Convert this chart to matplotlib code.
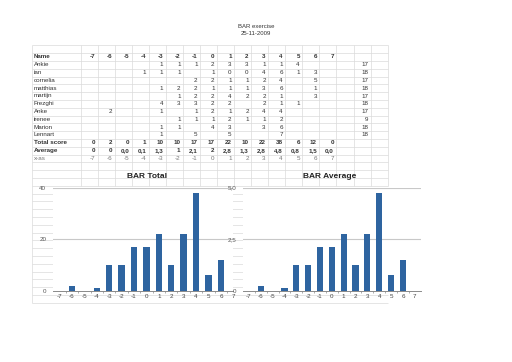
import matplotlib
matplotlib.use("Agg")
import matplotlib.pyplot as plt
from matplotlib.ticker import FixedLocator

plt.rcParams["font.family"] = ["Liberation Sans", "DejaVu Sans"]

# ===== DATA =====
TITLE = "BAR exercise"
DATE = "25-11-2009"
x_as = [-7, -6, -5, -4, -3, -2, -1, 0, 1, 2, 3, 4, 5, 6, 7]
names = ["Ankie", "ian", "cornelia", "matthias", "martijn", "Frezghi",
         "Anke", "irenee", "Marion", "Lennart"]
scores = [
    [None, None, None, None, 1, 1, 1, 2, 3, 3, 1, 1, 4, None, None],
    [None, None, None, 1, 1, 1, None, 1, 0, 0, 4, 6, 1, 3, None],
    [None, None, None, None, None, None, 2, 2, 1, 1, 2, 4, None, 5, None],
    [None, None, None, None, 1, 2, 2, 1, 1, 1, 3, 6, None, 1, None],
    [None, None, None, None, None, 1, 2, 2, 4, 2, 2, 1, None, 3, None],
    [None, None, None, None, 4, 3, 3, 2, 2, None, 2, 1, 1, None, None],
    [None, 2, None, None, 1, None, 1, 2, 1, 2, 4, 4, None, None, None],
    [None, None, None, None, None, 1, 1, 1, 2, 1, 1, 2, None, None, None],
    [None, None, None, None, 1, 1, None, 4, 3, None, 3, 6, None, None, None],
    [None, None, None, None, 1, None, 5, None, 5, None, None, 7, None, None, None],
]
row_sums = [17, 18, 17, 18, 17, 18, 17, 9, 18, 18]
total_score = [0, 2, 0, 1, 10, 10, 17, 17, 22, 10, 22, 38, 6, 12, 0]
average_txt = ["0", "0", "0,0", "0,1", "1,3", "1", "2,1", "2", "2,8",
               "1,3", "2,8", "4,8", "0,8", "1,5", "0,0"]
average_bar = [0, 0.25, 0, 0.125, 1.25, 1.25, 2.125, 2.125, 2.75,
               1.25, 2.75, 4.75, 0.75, 1.5, 0]

# ===== LAYOUT (pixels) =====
W, H = 512, 362
GRID = "#dadada"
TXT = "#333333"
BAR = "#2e64a0"
X0, NAME_W, COL_W, NCOL = 32.3, 48.4, 17.05, 18
ROW0, ROW_H, NROW = 45.3, 7.8, 33
FS = 4.5


def col_right(k):
    return X0 + NAME_W + (k + 1) * COL_W - 2.5


def row_mid(r):
    return ROW0 + (r + 0.5) * ROW_H


def main():
    fig = plt.figure(figsize=(W / 100, H / 100), dpi=100)
    bg = fig.add_axes([0, 0, 1, 1], zorder=0)
    bg.set_xlim(0, W)
    bg.set_ylim(H, 0)
    bg.axis("off")

    # spreadsheet grid
    x_right = X0 + NAME_W + NCOL * COL_W
    for r in range(NROW + 1):
        bg.hlines(ROW0 + r * ROW_H, X0, x_right, color=GRID, lw=0.5)
    y_chart = ROW0 + 18 * ROW_H
    bg.vlines(X0, ROW0, ROW0 + NROW * ROW_H, color=GRID, lw=0.5)
    for k in range(NCOL + 1):
        bg.vlines(X0 + NAME_W + k * COL_W, ROW0, y_chart, color=GRID, lw=0.5)

    # titles
    bg.text(W / 2, 26, TITLE, ha="center", va="center", fontsize=4.3, color=TXT)
    bg.text(W / 2, 33.3, DATE, ha="center", va="center", fontsize=4.3, color=TXT)

    # header row
    bg.text(34, row_mid(1), "Name", ha="left", va="center", fontsize=FS,
            fontweight="bold", color=TXT)
    for k, v in enumerate(x_as):
        bg.text(col_right(k), row_mid(1), str(v), ha="right", va="center",
                fontsize=FS, fontweight="bold", color=TXT)

    # people
    for i, (nm, row) in enumerate(zip(names, scores)):
        r = i + 2
        bg.text(34, row_mid(r), nm, ha="left", va="center", fontsize=FS, color=TXT)
        for k, v in enumerate(row):
            if v is not None:
                bg.text(col_right(k), row_mid(r), str(v), ha="right",
                        va="center", fontsize=FS, color=TXT)
        bg.text(col_right(16), row_mid(r), str(row_sums[i]), ha="right",
                va="center", fontsize=FS, color=TXT)

    # totals / averages / x-as
    r = len(names) + 2
    bg.text(34, row_mid(r), "Total score", ha="left", va="center", fontsize=FS,
            fontweight="bold", color=TXT)
    bg.text(34, row_mid(r + 1), "Average", ha="left", va="center", fontsize=FS,
            fontweight="bold", color=TXT)
    bg.text(34, row_mid(r + 2), "x-as", ha="left", va="center", fontsize=FS,
            color="#777777")
    for k in range(len(x_as)):
        bg.text(col_right(k), row_mid(r), str(total_score[k]), ha="right",
                va="center", fontsize=FS, fontweight="bold", color=TXT)
        bg.text(col_right(k), row_mid(r + 1), average_txt[k], ha="right",
                va="center", fontsize=FS, fontweight="bold", color=TXT)
        bg.text(col_right(k), row_mid(r + 2), str(x_as[k]), ha="right",
                va="center", fontsize=FS, color="#777777")

    # chart titles
    bg.text(146.7, 176, "BAR Total", ha="center", va="center", fontsize=6,
            fontweight="bold", color="#222222")
    bg.text(330, 176, "BAR Average", ha="center", va="center", fontsize=6,
            fontweight="bold", color="#222222")

    # charts
    top, bottom = 187.5, 290.8
    specs = [
        (53.3, 233.3, total_score, (-7.5, 7.0), 40, [0, 20, 40], ["0", "20", "40"]),
        (243.0, 420.7, average_bar, (-7.5, 7.5), 5, [0, 2.5, 5], ["0", "2,5", "5,0"]),
    ]
    for left, right, vals, xlim, ymax, yt, ytl in specs:
        ax = fig.add_axes([left / W, (H - bottom) / H, (right - left) / W,
                           (bottom - top) / H], zorder=1)
        ax.set_facecolor("white")
        ax.bar(x_as, vals, width=0.52, color=BAR, zorder=3)
        ax.set_xlim(*xlim)
        ax.set_ylim(0, ymax)
        for y in yt[1:]:
            ax.axhline(y, color="#c8c8c8", lw=0.8, zorder=1)
        for s in ["top", "right", "left"]:
            ax.spines[s].set_visible(False)
        ax.spines["bottom"].set_color("#8a8a8a")
        ax.spines["bottom"].set_linewidth(0.7)
        ax.set_yticks(yt)
        ax.set_yticklabels(ytl)
        ax.set_xticks(x_as)
        ax.set_xticklabels([str(v) for v in x_as])
        ax.xaxis.set_minor_locator(FixedLocator([v + 0.5 for v in x_as[:-1]]))
        ax.tick_params(axis="x", which="major", length=0, pad=2.5,
                       labelsize=4.5, labelcolor="#444444")
        ax.tick_params(axis="x", which="minor", length=1.5, width=0.5,
                       color="#8a8a8a")
        ax.tick_params(axis="y", length=0, pad=5, labelsize=4.5,
                       labelcolor="#555555")

    fig.savefig("out.png", dpi=100, facecolor="white")


if __name__ == "__main__":
    main()
